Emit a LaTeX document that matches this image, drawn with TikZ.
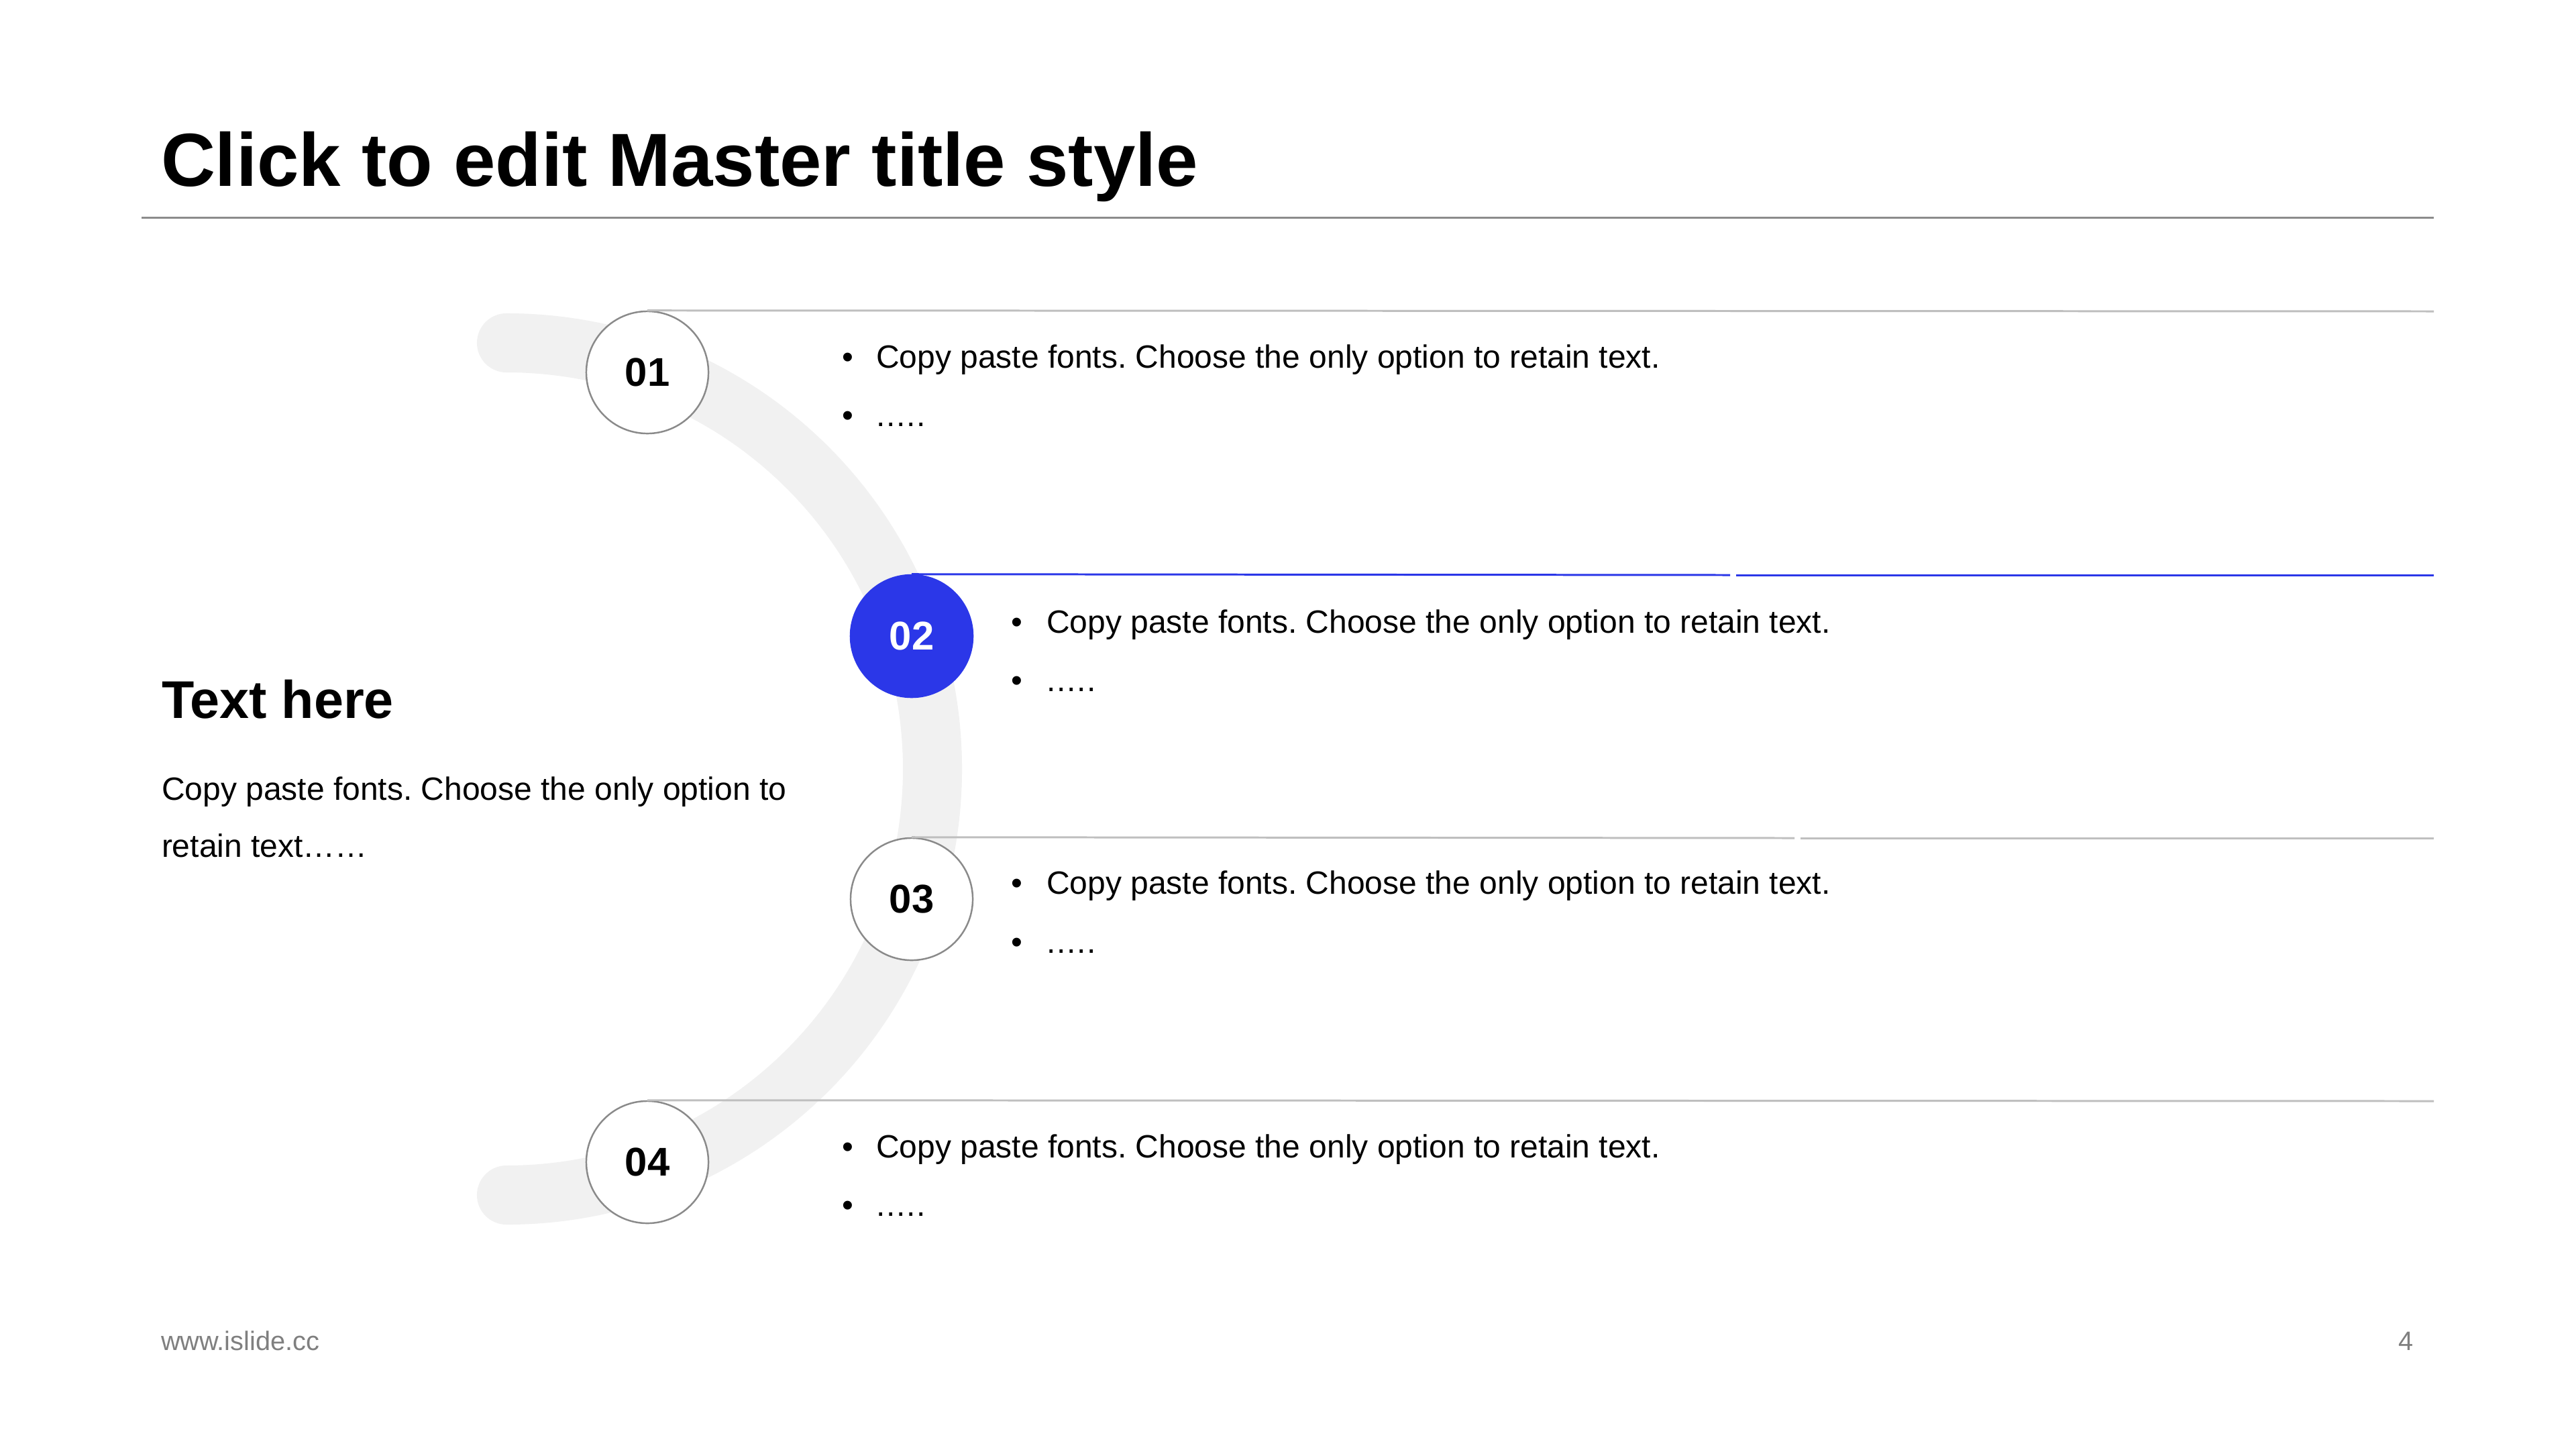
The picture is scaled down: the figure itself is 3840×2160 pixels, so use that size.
\documentclass[tikz,border=0pt]{standalone}
\usepackage{fontspec}
\setmainfont{Liberation Sans}
\frenchspacing
\definecolor{accent}{RGB}{43,55,232}
\definecolor{arcgray}{HTML}{F1F1F1}
\definecolor{linegray}{HTML}{BFBFBF}
\definecolor{rulegray}{HTML}{8C8C8C}
\definecolor{ringgray}{HTML}{8A8A8A}
\definecolor{footgray}{HTML}{7F7F7F}
\newcommand{\fivedots}{.\kern0.5pt.\kern0.5pt.\kern0.5pt.\kern0.5pt.}
\begin{document}
\begin{tikzpicture}[x=0.01cm,y=-0.01cm,
  txt/.style={inner sep=0pt,outer sep=0pt,anchor=base west},
  body/.style={txt,font=\frenchspacing\fontsize{13.65}{16}\selectfont},
  numc/.style={circle,draw=ringgray,line width=0.7pt,fill=white,minimum size=1.82cm,inner sep=0pt,font=\fontsize{17}{20}\selectfont\bfseries},
  numcact/.style={numc,draw=accent,fill=accent,text=white},
  itemline/.style={draw=linegray,line width=0.85pt},
  actline/.style={draw=accent,line width=0.85pt},
  foot/.style={inner sep=0pt,outer sep=0pt,text=footgray,font=\fontsize{11.3}{13}\selectfont}
]
\useasboundingbox (0,0) rectangle (3840,2160);
\fill[white] (0,0) rectangle (3840,2160);

% title
\node[txt,font=\fontsize{31.9}{38}\selectfont\bfseries] (title) at (240,277) {Click to edit Master title style};
\coordinate (rl) at (211,324);
\coordinate (rr) at (3628,324);
\draw[draw=rulegray,line width=0.85pt] (rl) -- (rr);

% background arc band
\draw[arcgray,line width=0.88cm,line cap=round] (755,511) arc[start angle=-90,end angle=90,radius=635];

% number circles
\node[numc] (c1) at (965,555) {01};
\node[numcact] (c2) at (1359,948) {02};
\node[numc] (c3) at (1359,1340) {03};
\node[numc] (c4) at (965,1732) {04};

% line end points
\coordinate (e1) at (3628,464);
\coordinate (g2a) at (2579,857);
\coordinate (g2b) at (2588,857);
\coordinate (e2) at (3628,857);
\coordinate (g3a) at (2675,1249);
\coordinate (g3b) at (2684,1249);
\coordinate (e3) at (3628,1249);
\coordinate (e4) at (3628,1641);

\draw[itemline] (c1.north) -- (e1);
\draw[actline] (c2.north) -- (g2a);
\draw[actline] (g2b) -- (e2);
\draw[itemline] (c3.north) -- (g3a);
\draw[itemline] (g3b) -- (e3);
\draw[itemline] (c4.north) -- (e4);

% item texts
\node[body] (b1a) at (1255,548) {•};
\node[body] (t1a) at (1306,548) {Copy paste fonts. Choose the only option to retain text.};
\node[body] (b1b) at (1255,635) {•};
\node[body] (t1b) at (1306,635) {\fivedots};

\node[body] (b2a) at (1507,943) {•};
\node[body] (t2a) at (1560,943) {Copy paste fonts. Choose the only option to retain text.};
\node[body] (b2b) at (1507,1030) {•};
\node[body] (t2b) at (1560,1030) {\fivedots};

\node[body] (b3a) at (1507,1332) {•};
\node[body] (t3a) at (1560,1332) {Copy paste fonts. Choose the only option to retain text.};
\node[body] (b3b) at (1507,1420) {•};
\node[body] (t3b) at (1560,1420) {\fivedots};

\node[body] (b4a) at (1255,1725) {•};
\node[body] (t4a) at (1306,1725) {Copy paste fonts. Choose the only option to retain text.};
\node[body] (b4b) at (1255,1812) {•};
\node[body] (t4b) at (1306,1812) {\fivedots};

% left block
\node[txt,font=\fontsize{22.5}{27}\selectfont\bfseries] (head) at (241,1070) {Text here};
\node[body] (l1) at (241,1192) {Copy paste fonts. Choose the only option to};
\node[body] (l2) at (241,1277) {retain text……};

% footer
\node[foot,anchor=base west] (url) at (240,2012) {www.islide.cc};
\node[foot,anchor=base east] (pg) at (3598,2012) {4};
\end{tikzpicture}
\end{document}
